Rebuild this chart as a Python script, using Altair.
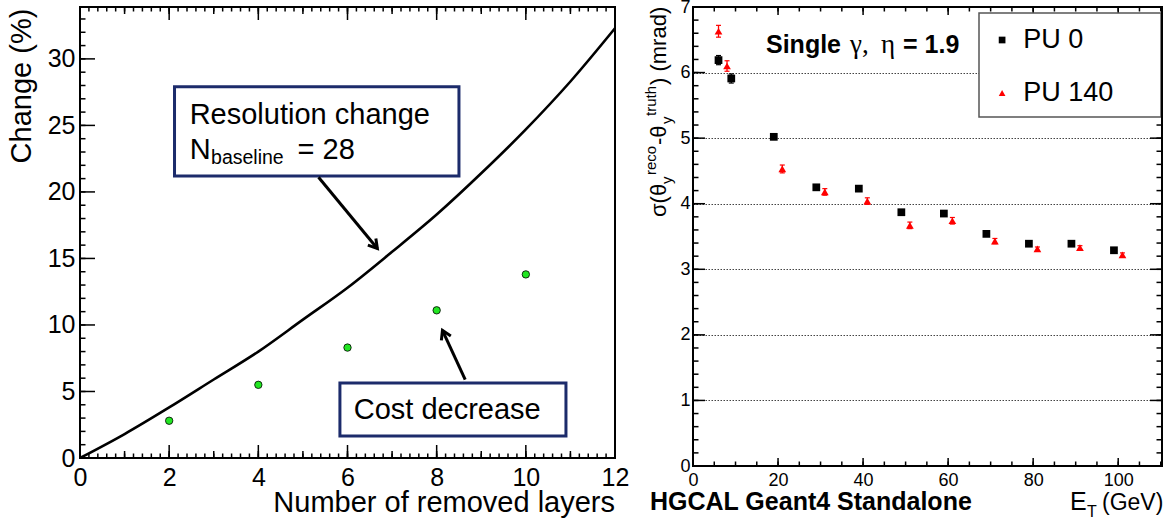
import math
import altair as alt
import pandas as pd

FONT = "Liberation Sans"
SERIF = "Liberation Serif"

# ---------------- data ----------------
removed_layers = [0, 1, 2, 3, 4, 5, 6, 7, 8, 9, 10, 11, 12]
resolution_change = [0.0, 1.8, 3.8, 5.9, 8.0, 10.4, 12.8, 15.5, 18.3, 21.4, 24.7, 28.3, 32.3]
cost_layers = [2, 4, 6, 8, 10]
cost_change = [2.8, 5.5, 8.3, 11.1, 13.8]

et_pu0 = [6, 9, 19, 29, 39, 49, 59, 69, 79, 89, 99]
sigma_pu0 = [6.19, 5.91, 5.02, 4.25, 4.23, 3.87, 3.85, 3.54, 3.39, 3.39, 3.29]
err_pu0 = [0.07, 0.07, 0.04, 0.03, 0.03, 0.03, 0.03, 0.02, 0.02, 0.02, 0.02]
et_pu140 = [6, 8, 21, 31, 41, 51, 61, 71, 81, 91, 101]
sigma_pu140 = [6.63, 6.10, 4.53, 4.18, 4.04, 3.67, 3.74, 3.43, 3.31, 3.33, 3.22]
err_pu140 = [0.09, 0.08, 0.06, 0.05, 0.05, 0.05, 0.05, 0.04, 0.03, 0.03, 0.03]
series_names = ["PU 0", "PU 140"]

left_x_ticks = [0, 2, 4, 6, 8, 10, 12]
left_y_ticks = [0, 5, 10, 15, 20, 25, 30]
right_x_ticks = [0, 20, 40, 60, 80, 100]
right_y_ticks = [0, 1, 2, 3, 4, 5, 6, 7]

# ---------------- layout ----------------
W, H = 1170, 520
L_X0, L_X1, L_YB, L_YT = 80, 615, 458, 7
R_X0, R_X1, R_YB, R_YT = 693, 1162, 466, 7
L_XDOM, L_YDOM = [0, 12], [0, 33.9]
R_XDOM, R_YDOM = [0, 110.3], [0, 7]


def lin(dom, rng):
    return alt.Scale(domain=dom, range=rng, nice=False, zero=False)


LXS = lin(L_XDOM, [L_X0, L_X1])
LYS = lin(L_YDOM, [L_YB, L_YT])
RXS = lin(R_XDOM, [R_X0, R_X1])
RYS = lin(R_YDOM, [R_YB, R_YT])

# pixels per data unit
lkx = (L_X1 - L_X0) / (L_XDOM[1] - L_XDOM[0])
lky = (L_YB - L_YT) / (L_YDOM[1] - L_YDOM[0])
rkx = (R_X1 - R_X0) / (R_XDOM[1] - R_XDOM[0])
rky = (R_YB - R_YT) / (R_YDOM[1] - R_YDOM[0])


def steps(lo, hi, step):
    n = int(round((hi - lo) / step))
    return [round(lo + i * step, 4) for i in range(n + 1)]


lx_minor, lx_mid = steps(0, 12, 0.2), steps(0, 12, 1)
ly_minor = steps(0, 33, 1)
rx_minor = steps(0, 110, 5)
ry_minor = steps(0, 7, 0.2)


def lab_axis(orient, offset, values, fs, pad):
    return alt.Axis(orient=orient, offset=offset, values=values, ticks=False, tickSize=0,
                    domain=False, grid=False, labels=True, labelFont=FONT, labelFontSize=fs,
                    labelColor="black", labelPadding=pad, labelOverlap=False,
                    labelFlush=False, title=None)


anchor_df = pd.DataFrame({"x": [0.0], "y": [0.0]})
one_df = pd.DataFrame({"k": [0]})


def ghost(xs, ys, xaxis=None, yaxis=None):
    return alt.Chart(anchor_df).mark_point(opacity=0, size=1).encode(
        x=alt.X("x:Q", scale=xs, axis=xaxis),
        y=alt.Y("y:Q", scale=ys, axis=yaxis),
    )


def seg_rows(x0, y0, x1, y1, w):
    n = max(len(x0), len(y0), len(x1), len(y1))
    rep = lambda v: v if len(v) == n else v * n
    return pd.DataFrame({"x0": rep(x0), "y0": rep(y0), "x1": rep(x1), "y1": rep(y1), "w": [w] * n})


def x_edge(vals, yedge, ylen, w=1.5):
    return seg_rows(vals, [yedge], vals, [yedge + ylen], w)


def y_edge(vals, xedge, xlen, w=1.5):
    return seg_rows([xedge], vals, [xedge + xlen], vals, w)


def seg_layer(df, xs, ys):
    return alt.Chart(df).mark_rule(color="black").encode(
        x=alt.X("x0:Q", scale=xs, axis=None), x2="x1:Q",
        y=alt.Y("y0:Q", scale=ys, axis=None), y2="y1:Q",
        strokeWidth=alt.StrokeWidth("w:Q", scale=None, legend=None),
    )


def frame(x0, x1, yt, yb):
    return alt.Chart(one_df).mark_rect(fillOpacity=0, stroke="black", strokeWidth=2).encode(
        x=alt.value(x0), x2=alt.value(x1), y=alt.value(yt), y2=alt.value(yb))


def ptext(df, **kw):
    return alt.Chart(df).mark_text(color="black", **kw).encode(
        x=alt.X("px:Q", scale=None, axis=None),
        y=alt.Y("py:Q", scale=None, axis=None),
        text="text:N",
        size=alt.Size("fs:Q", scale=None, legend=None),
    )


# ---------------- left panel ----------------
curve_df = pd.DataFrame({"n": removed_layers, "change": resolution_change})
cost_df = pd.DataFrame({"n": cost_layers, "change": cost_change})

l_curve = alt.Chart(curve_df).mark_line(color="black", strokeWidth=2.6, interpolate="monotone").encode(
    x=alt.X("n:Q", scale=LXS, axis=lab_axis("bottom", L_YB - H, left_x_ticks, 25, 7)),
    y=alt.Y("change:Q", scale=LYS, axis=lab_axis("left", -L_X0, left_y_ticks, 25, 5)),
)
l_pts = alt.Chart(cost_df).mark_circle(size=55, color="#22e622", stroke="black", strokeWidth=0.8, opacity=1).encode(
    x=alt.X("n:Q", scale=LXS, axis=None),
    y=alt.Y("change:Q", scale=LYS, axis=None),
)

box_df = pd.DataFrame({"x0": [2.12, 5.83], "x1": [8.5, 10.9], "y0": [21.2, 1.65], "y1": [27.9, 5.64]})
l_boxes = alt.Chart(box_df).mark_rect(fill="white", stroke="#1c2b6b", strokeWidth=3).encode(
    x=alt.X("x0:Q", scale=LXS, axis=None), x2="x1:Q",
    y=alt.Y("y0:Q", scale=LYS, axis=None), y2="y1:Q",
)

arrow_x0, arrow_y0 = [5.35, 8.64], [21.1, 5.9]
arrow_x1, arrow_y1 = [6.67, 8.13], [15.75, 9.6]
arrow_ang = []
for a, b, c, d in zip(arrow_x0, arrow_y0, arrow_x1, arrow_y1):
    dx = (c - a) * lkx
    dy = -(d - b) * lky
    arrow_ang.append(math.degrees(math.atan2(dx, -dy)) % 360)
arrow_df = pd.DataFrame({"x0": arrow_x0, "y0": arrow_y0, "x1": arrow_x1, "y1": arrow_y1, "ang": arrow_ang})

# arrows and inward frame ticks share one segment layer
ly0, ly1 = L_YDOM
lx0 = L_XDOM[0]
l_seg_df = pd.concat([
    seg_rows(arrow_x0, arrow_y0, arrow_x1, arrow_y1, 3),
    x_edge(lx_minor, ly0, 4.5 / lky), x_edge(lx_mid, ly0, 7 / lky), x_edge(left_x_ticks, ly0, 13 / lky),
    x_edge(lx_minor, ly1, -4.5 / lky), x_edge(lx_mid, ly1, -7 / lky), x_edge(left_x_ticks, ly1, -13 / lky),
    y_edge(ly_minor, lx0, 5.5 / lkx), y_edge(left_y_ticks, lx0, 15 / lkx),
], ignore_index=True)
l_segs = seg_layer(l_seg_df, LXS, LYS)

l_heads = alt.Chart(arrow_df).mark_point(
    shape="M-0.6,1L0,0L0.6,1", filled=False, stroke="black", strokeWidth=3,
    strokeJoin="miter", size=300, opacity=1).encode(
    x=alt.X("x1:Q", scale=LXS, axis=None),
    y=alt.Y("y1:Q", scale=LYS, axis=None),
    angle=alt.Angle("ang:Q", scale=None),
)

ann_df = pd.DataFrame({
    "text": ["Resolution change", "N", "baseline", "= 28", "Cost decrease"],
    "x": [2.46, 2.46, 2.94, 4.88, 6.14],
    "y": [25.1, 22.45, 22.1, 22.45, 2.93],
    "fs": [29, 29, 19.5, 29, 29],
})
l_text = alt.Chart(ann_df).mark_text(align="left", baseline="alphabetic", font=FONT, color="black").encode(
    x=alt.X("x:Q", scale=LXS, axis=None),
    y=alt.Y("y:Q", scale=LYS, axis=None),
    text="text:N",
    size=alt.Size("fs:Q", scale=None, legend=None),
)

l_ytitle = ptext(pd.DataFrame({"text": ["Change (%)"], "px": [31], "py": [86], "fs": [29]}),
                 angle=270, align="center", baseline="alphabetic", font=FONT)
l_xtitle = ptext(pd.DataFrame({"text": ["Number of removed layers"], "px": [L_X1], "py": [512], "fs": [29]}),
                 align="right", baseline="alphabetic", font=FONT)

# ---------------- right panel ----------------
pu0_df = pd.DataFrame({"et": et_pu0, "sigma": sigma_pu0, "err": err_pu0, "series": series_names[0]})
pu140_df = pd.DataFrame({"et": et_pu140, "sigma": sigma_pu140, "err": err_pu140, "series": series_names[1]})
pts_df = pd.concat([pu0_df, pu140_df], ignore_index=True)

r_main = ghost(RXS, RYS, lab_axis("bottom", R_YB - H, right_x_ticks, 18, 5.5),
               lab_axis("left", -R_X0, right_y_ticks, 18, 3))
grid_axis = alt.Axis(orient="left", offset=-R_X0, values=right_y_ticks[1:-1], grid=True,
                     gridColor="#444444", gridDash=[1.5, 1.5], gridWidth=1, ticks=False,
                     labels=False, domain=False, title=None)
r_grid = ghost(RXS, RYS, None, grid_axis)

rx0, rx1 = R_XDOM
ry0, ry1 = R_YDOM
r_seg_df = pd.concat([
    x_edge(rx_minor, ry0, 4.5 / rky), x_edge(right_x_ticks, ry0, 8 / rky),
    x_edge(rx_minor, ry1, -4.5 / rky), x_edge(right_x_ticks, ry1, -8 / rky),
    y_edge(ry_minor, rx0, 5.5 / rkx), y_edge(right_y_ticks, rx0, 12 / rkx),
    y_edge(ry_minor, rx1, -5.5 / rkx), y_edge(right_y_ticks, rx1, -12 / rkx),
], ignore_index=True)
r_segs = seg_layer(r_seg_df, RXS, RYS)


def err_layers(df, color):
    base = alt.Chart(df).transform_calculate(lo="datum.sigma - datum.err", hi="datum.sigma + datum.err")
    rules = base.mark_rule(color=color, strokeWidth=1.3).encode(
        x=alt.X("et:Q", scale=RXS, axis=None),
        y=alt.Y("lo:Q", scale=RYS, axis=None), y2="hi:Q")
    lo = base.mark_tick(orient="horizontal", size=5, thickness=1.2, color=color, opacity=1).encode(
        x=alt.X("et:Q", scale=RXS, axis=None), y=alt.Y("lo:Q", scale=RYS, axis=None))
    hi = base.mark_tick(orient="horizontal", size=5, thickness=1.2, color=color, opacity=1).encode(
        x=alt.X("et:Q", scale=RXS, axis=None), y=alt.Y("hi:Q", scale=RYS, axis=None))
    return [rules, lo, hi]


leg = alt.Legend(orient="none", legendX=988.6, legendY=26.5, title=None, labelFont=FONT,
                 labelFontSize=27, labelColor="black", symbolSize=45, labelOffset=7.7,
                 rowPadding=25, padding=0, symbolStrokeWidth=0)
r_pts = alt.Chart(pts_df).mark_point(filled=True, size=60, opacity=1).encode(
    x=alt.X("et:Q", scale=RXS, axis=None),
    y=alt.Y("sigma:Q", scale=RYS, axis=None),
    color=alt.Color("series:N", scale=alt.Scale(domain=series_names, range=["black", "#ff0000"]), legend=leg),
    shape=alt.Shape("series:N", scale=alt.Scale(domain=series_names, range=["square", "triangle-up"]), legend=leg),
)

r_legbox = alt.Chart(one_df).mark_rect(fill="white", stroke="#555555", strokeWidth=1.5).encode(
    x=alt.value(979), x2=alt.value(1161), y=alt.value(13), y2=alt.value(117))

r_ytitle = ptext(pd.DataFrame({
    "text": ["σ(θ", "y", "reco", "-θ", "y", "truth", ") (mrad)"],
    "px": [659, 667, 651, 659, 667, 651, 659],
    "py": [217, 184, 175, 145, 124, 116, 85],
    "fs": [22, 15, 15, 22, 15, 15, 22],
}), angle=270, align="left", baseline="middle", font=FONT)
r_xtitle = ptext(pd.DataFrame({
    "text": ["E", "T", "(GeV)"],
    "px": [1070, 1087, 1102],
    "py": [510, 517, 510],
    "fs": [25, 16, 23],
}), align="left", baseline="alphabetic", font=FONT)
r_bold = ptext(pd.DataFrame({
    "text": ["HGCAL Geant4 Standalone", "Single", "= 1.9"],
    "px": [650, 766, 903],
    "py": [510, 53, 53],
    "fs": [25, 25, 25],
}), align="left", baseline="alphabetic", font=FONT, fontWeight="bold")
r_greek = ptext(pd.DataFrame({
    "text": ["γ,", "η"],
    "px": [850, 881],
    "py": [53, 53],
    "fs": [27, 27],
}), align="left", baseline="alphabetic", font=SERIF)

layers = [
    l_curve, l_pts,
    l_boxes, l_segs, l_heads, l_text, l_ytitle, l_xtitle,
    frame(L_X0, L_X1, L_YT, L_YB),
    r_main, r_grid, r_segs,
    *err_layers(pu0_df, "black"), *err_layers(pu140_df, "#ff0000"),
    r_pts, r_legbox, r_ytitle, r_xtitle, r_bold, r_greek,
    frame(R_X0, R_X1, R_YT, R_YB),
]

chart = alt.layer(*layers).resolve_scale(
    x="independent", y="independent"
).resolve_axis(
    x="independent", y="independent"
).properties(
    width=W, height=H, padding=0, autosize=alt.AutoSizeParams(type="none")
).configure_view(strokeWidth=0)

chart.save("out.html", embed_options={"renderer": "svg", "actions": False})
